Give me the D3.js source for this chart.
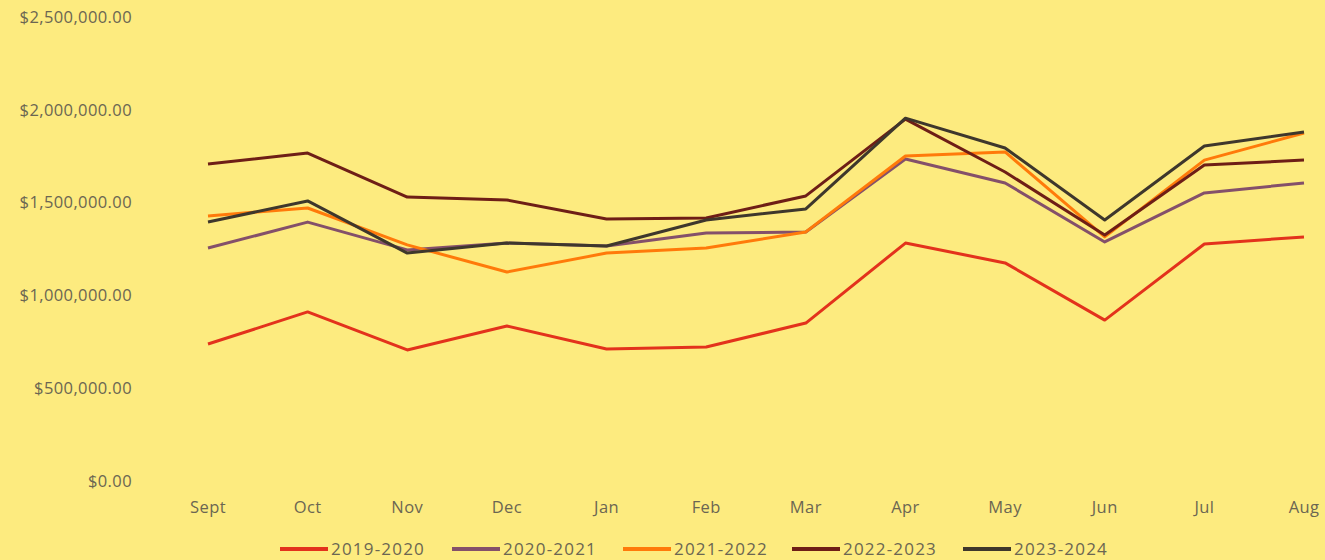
<!DOCTYPE html>
<html>
<head>
<meta charset="utf-8">
<script src="https://cdn.jsdelivr.net/npm/d3@7"></script>
<style>
  html, body { margin: 0; padding: 0; background: #fdeb7f; }
  svg { display: block; }
  text { font-family: "Open Sans", sans-serif; fill: #6b6652; letter-spacing: 0.4px; }
</style>
</head>
<body>
<div id="chart"></div>
<script>
const months = ["Sept", "Oct", "Nov", "Dec", "Jan", "Feb", "Mar", "Apr", "May", "Jun", "Jul", "Aug"];
const seriesNames = ["2019-2020", "2020-2021", "2021-2022", "2022-2023", "2023-2024"];
const yTicks = [0, 500000, 1000000, 1500000, 2000000, 2500000];

const s2019 = [738000, 911000, 706000, 835000, 711000, 722000, 851000, 1282000, 1175000, 867000, 1277000, 1315000];
const s2020 = [1255000, 1395000, 1245000, 1282000, 1266000, 1336000, 1342000, 1735000, 1606000, 1288000, 1552000, 1606000];
const s2021 = [1428000, 1471000, 1272000, 1126000, 1228000, 1255000, 1342000, 1751000, 1773000, 1315000, 1729000, 1875000];
const s2022 = [1708000, 1767000, 1530000, 1514000, 1412000, 1417000, 1536000, 1950000, 1665000, 1325000, 1703000, 1729000];
const s2023 = [1395000, 1509000, 1228000, 1282000, 1266000, 1406000, 1466000, 1955000, 1794000, 1406000, 1805000, 1880000];

const colors = ["#e3321c", "#84506a", "#ff7a0a", "#6e1e16", "#3e372c"];

const width = 1325;
const height = 560;

const svg = d3.select('#chart')
    .append('svg')
    .attr('width', width)
    .attr('height', height)

const x = d3.scalePoint().domain(months).range([208, 1304]);
const y = d3.scaleLinear().domain([0, 2500000]).range([481, 17]);

const fmt = d => "$" + d3.format(",.2f")(d);

// y axis labels (no lines)
svg.append('g')
    .selectAll('text')
    .data(yTicks)
    .enter()
    .append('text')
    .attr('x', 132)
    .attr('y', d => y(d))
    .attr('dy', '0.35em')
    .attr('text-anchor', 'end')
    .style('font-size', '16.5px')
    .text(fmt)

// x axis labels
svg.append('g')
    .selectAll('text')
    .data(months)
    .enter()
    .append('text')
    .attr('x', d => x(d))
    .attr('y', 507)
    .attr('dy', '0.35em')
    .attr('text-anchor', 'middle')
    .style('font-size', '16.5px')
    .text(d => d)

const allSeries = [s2019, s2020, s2021, s2022, s2023];

const line = d3.line()
    .x((d, i) => x(months[i]))
    .y(d => y(d));

svg.append('g')
    .selectAll('path')
    .data(allSeries)
    .enter()
    .append('path')
    .attr('fill', 'none')
    .attr('stroke', (d, i) => colors[i])
    .attr('stroke-width', 3)
    .attr('stroke-linejoin', 'round')
    .attr('d', line)

// legend
const legendX = [280, 452, 623, 792, 963];
const legend = svg.append('g')
    .selectAll('g')
    .data(seriesNames)
    .enter()
    .append('g')
    .attr('transform', (d, i) => `translate(${legendX[i]},549)`)

legend.append('line')
    .attr('x1', 0)
    .attr('x2', 48)
    .attr('stroke', (d, i) => colors[i])
    .attr('stroke-width', 4)

legend.append('text')
    .attr('x', 51)
    .attr('dy', '0.35em')
    .style('font-size', '17px')
    .style('letter-spacing', '1.2px')
    .text(d => d)
</script>
</body>
</html>
